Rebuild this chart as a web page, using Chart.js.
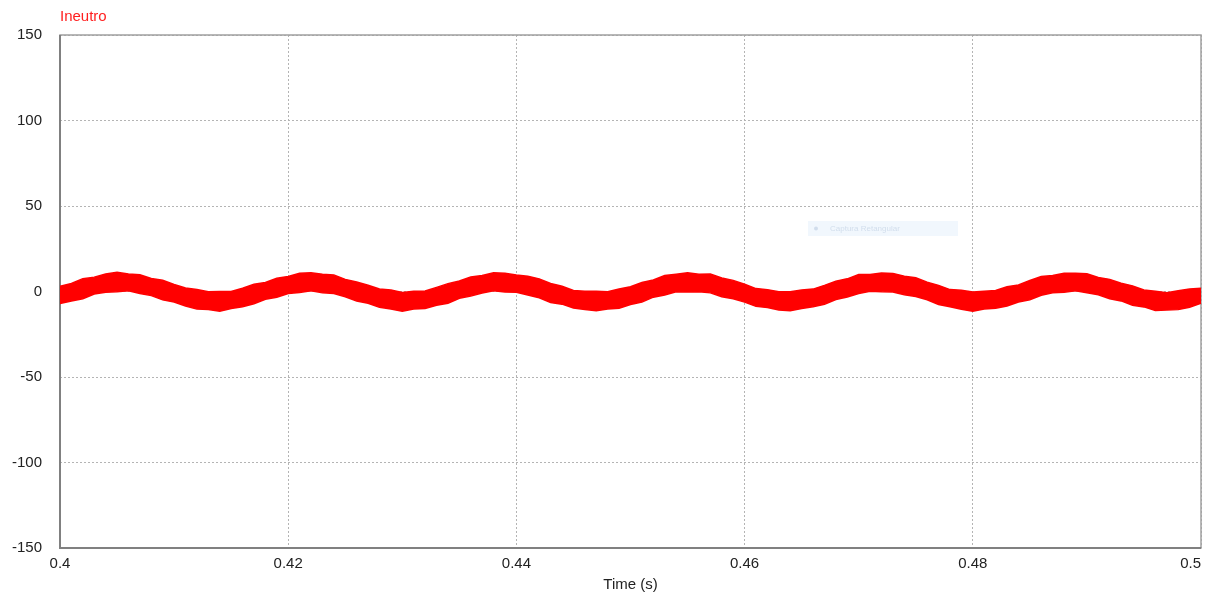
<!DOCTYPE html>
<html>
<head>
<meta charset="utf-8">
<title>Ineutro</title>
<script src="https://cdn.jsdelivr.net/npm/chart.js@4.4.1/dist/chart.umd.min.js"></script>
<style>
  html, body { margin: 0; padding: 0; background: #fff; }
  #wrap { position: relative; width: 1213px; height: 598px; }
</style>
</head>
<body>
<div id="wrap"><canvas id="chart" width="1213" height="598"></canvas></div>
<script>
// Data (neutral current, noisy 60 Hz ripple band)
const seriesName = 'Ineutro';
const xTitle = 'Time (s)';
const xTicks = [0.4, 0.42, 0.44, 0.46, 0.48, 0.5];
const yTicks = [-150, -100, -50, 0, 50, 100, 150];

// sample instants (s)
const times = [
  0.400, 0.401, 0.402, 0.403, 0.404, 0.405, 0.406, 0.407, 0.408, 0.409,
  0.410, 0.411, 0.412, 0.413, 0.414, 0.415, 0.416, 0.417, 0.418, 0.419,
  0.420, 0.421, 0.422, 0.423, 0.424, 0.425, 0.426, 0.427, 0.428, 0.429,
  0.430, 0.431, 0.432, 0.433, 0.434, 0.435, 0.436, 0.437, 0.438, 0.439,
  0.440, 0.441, 0.442, 0.443, 0.444, 0.445, 0.446, 0.447, 0.448, 0.449,
  0.450, 0.451, 0.452, 0.453, 0.454, 0.455, 0.456, 0.457, 0.458, 0.459,
  0.460, 0.461, 0.462, 0.463, 0.464, 0.465, 0.466, 0.467, 0.468, 0.469,
  0.470, 0.471, 0.472, 0.473, 0.474, 0.475, 0.476, 0.477, 0.478, 0.479,
  0.480, 0.481, 0.482, 0.483, 0.484, 0.485, 0.486, 0.487, 0.488, 0.489,
  0.490, 0.491, 0.492, 0.493, 0.494, 0.495, 0.496, 0.497, 0.498, 0.499,
  0.500
];

// upper edge of the noise band (A)
const upperEdge = [
  3.1, 4.7, 7.5, 8.4, 10.2, 11.3, 10.2, 9.8, 7.6, 6.6,
  4.1, 2.0, 1.2, -0.2, 0.0, 0.0, 1.9, 4.2, 5.3, 7.7,
  8.8, 10.7, 10.9, 10.1, 9.7, 7.1, 5.5, 3.7, 1.5, 0.9,
  -0.6, 0.1, 0.3, 2.4, 4.6, 6.1, 8.5, 9.3, 11.0, 10.7,
  9.7, 8.9, 7.4, 4.7, 3.1, 0.6, 0.2, 0.1, -0.1, 1.4,
  2.8, 5.3, 6.7, 9.3, 10.1, 10.9, 10.1, 10.2, 7.9, 6.5,
  4.2, 1.7, 1.1, -0.2, -0.1, 0.9, 1.4, 3.6, 6.0, 7.4,
  9.9, 9.9, 10.8, 10.6, 8.9, 8.0, 5.4, 3.6, 1.1, 0.7,
  -0.3, 0.2, 0.6, 2.8, 3.8, 6.4, 8.8, 9.4, 10.7, 10.6,
  10.4, 8.2, 7.1, 4.8, 3.3, 0.9, 0.2, -0.7, 0.4, 1.4,
  1.9
];

// lower edge of the noise band (A)
const lowerEdge = [
  -7.0, -5.5, -4.2, -1.5, -0.5, -0.2, 0.4, -1.2, -2.4, -4.9,
  -6.1, -8.5, -10.3, -10.5, -11.5, -9.9, -8.9, -7.2, -4.5, -3.4,
  -1.2, -0.6, 0.5, -0.8, -1.2, -3.1, -5.5, -6.9, -9.2, -10.2,
  -11.5, -10.3, -9.9, -8.1, -6.9, -4.0, -2.7, -0.9, 0.4, -0.3,
  -0.4, -2.1, -3.7, -6.4, -7.4, -9.6, -10.5, -11.2, -10.2, -9.8,
  -7.6, -6.2, -3.3, -2.0, -0.1, -0.3, -0.1, -0.8, -3.1, -4.3,
  -6.2, -8.7, -9.4, -10.8, -11.3, -10.0, -8.9, -7.5, -4.7, -3.2,
  -1.2, 0.1, -0.2, -0.3, -1.9, -2.9, -4.8, -7.6, -8.9, -10.4,
  -11.5, -10.3, -9.8, -8.5, -6.1, -4.8, -2.2, -0.8, -0.4, 0.5,
  -0.7, -1.9, -4.2, -5.5, -8.0, -9.0, -11.1, -10.8, -10.6, -9.2,
  -6.8
];

const bandColor = '#ff0000';
const fontFamily = '"Liberation Sans", Arial, sans-serif';

const framePlugin = {
  id: 'frame',
  beforeDraw(chart) {
    // last time label sits flush with the right edge of the plot, as in the simulator
    const items = chart.scales.x.getLabelItems();
    if (items.length) items[items.length - 1].options.textAlign = 'right';
  },
  beforeDatasetsDraw(chart) {
    const { ctx, chartArea: a } = chart;
    ctx.save();
    ctx.strokeStyle = '#a0a0a0';
    ctx.lineWidth = 1.5;
    ctx.strokeRect(a.left, a.top, a.right - a.left, a.bottom - a.top);
    // left and bottom axes a bit heavier
    ctx.strokeStyle = '#808080';
    ctx.lineWidth = 2;
    ctx.beginPath();
    ctx.moveTo(a.left, a.top);
    ctx.lineTo(a.left, a.bottom);
    ctx.lineTo(a.right, a.bottom);
    ctx.stroke();
    ctx.restore();
  },
  afterDraw(chart) {
    const { ctx, chartArea: a } = chart;
    ctx.save();
    // series name, top-left like the simulator window
    ctx.fillStyle = '#ff2020';
    ctx.font = '15px ' + fontFamily;
    ctx.textBaseline = 'middle';
    ctx.textAlign = 'left';
    ctx.fillText(seriesName, a.left, 17);
    // faint tooltip left over in the screenshot
    ctx.fillStyle = 'rgba(225,238,250,0.45)';
    ctx.fillRect(808, 221, 150, 15);
    ctx.fillStyle = 'rgba(170,190,215,0.45)';
    ctx.beginPath();
    ctx.arc(816, 228.5, 2, 0, Math.PI * 2);
    ctx.fill();
    ctx.font = '8px ' + fontFamily;
    ctx.fillText('Captura Retangular', 830, 229);
    ctx.restore();
  }
};

new Chart(document.getElementById('chart'), {
  type: 'line',
  data: {
    datasets: [
      {
        label: seriesName + ' max',
        data: times.map((t, i) => ({ x: t, y: upperEdge[i] })),
        borderColor: bandColor,
        borderWidth: 1.5,
        pointRadius: 0,
        tension: 0,
        fill: false
      },
      {
        label: seriesName + ' min',
        data: times.map((t, i) => ({ x: t, y: lowerEdge[i] })),
        borderColor: bandColor,
        backgroundColor: bandColor,
        borderWidth: 1.5,
        pointRadius: 0,
        tension: 0,
        fill: '-1'
      }
    ]
  },
  options: {
    responsive: false,
    animation: false,
    devicePixelRatio: 1,
    layout: { padding: { top: 35, right: 12, bottom: 0, left: 0 } },
    plugins: {
      legend: { display: false },
      tooltip: { enabled: false }
    },
    scales: {
      x: {
        type: 'linear',
        min: 0.4,
        max: 0.5,
        afterBuildTicks: axis => { axis.ticks = xTicks.map(v => ({ value: v })); },
        afterFit: axis => { axis.height = 50; axis.paddingRight = 0; },
        ticks: {
          padding: 7,
          maxRotation: 0,
          color: '#222',
          font: { size: 15, family: fontFamily },
          callback: v => String(+v.toFixed(2))
        },
        grid: { color: '#b4b4b4', lineWidth: 1, drawTicks: false },
        border: { display: false, dash: [2, 2] },
        title: {
          display: true,
          text: xTitle,
          color: '#222',
          font: { size: 15, family: fontFamily },
          padding: { top: 0, bottom: 4 }
        }
      },
      y: {
        min: -150,
        max: 150,
        afterBuildTicks: axis => { axis.ticks = yTicks.map(v => ({ value: v })); },
        afterFit: axis => { axis.width = 60; },
        ticks: {
          padding: 18,
          color: '#222',
          font: { size: 15, family: fontFamily }
        },
        grid: { color: '#b4b4b4', lineWidth: 1, drawTicks: false },
        border: { display: false, dash: [2, 2] }
      }
    }
  },
  plugins: [framePlugin]
});
</script>
</body>
</html>
